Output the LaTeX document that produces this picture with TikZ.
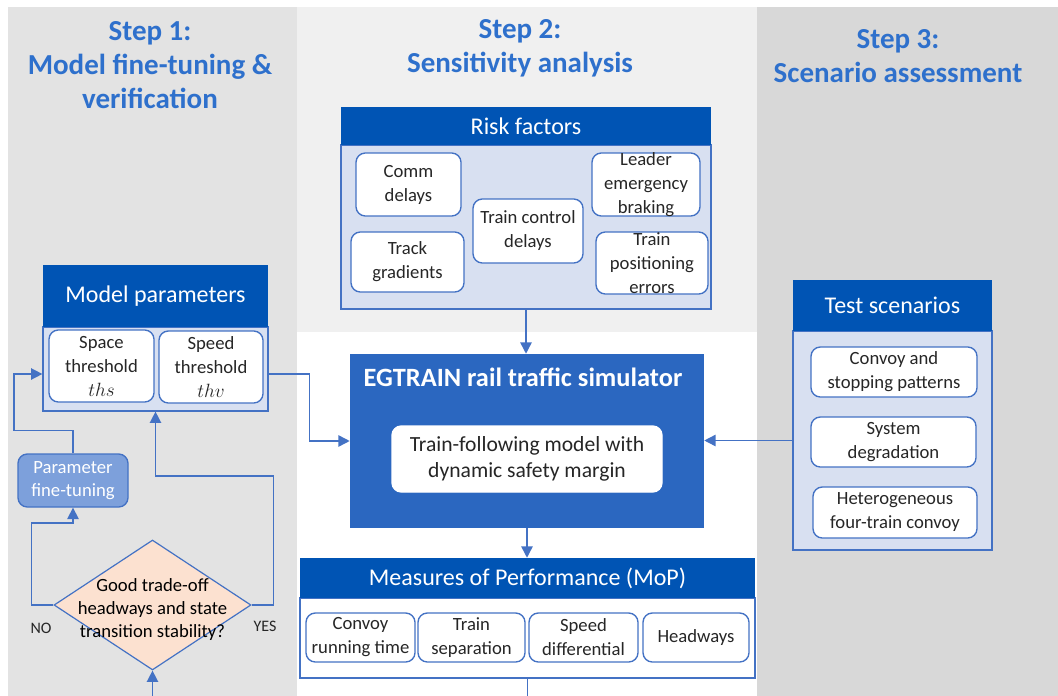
\documentclass[tikz,border=0pt]{standalone}
\usepackage{fontspec}
\setmainfont{Carlito}
\usepackage{amsmath}
\usepackage{tikz}
\usetikzlibrary{shapes,arrows,arrows.meta}

\definecolor{colA}{RGB}{227,227,227}
\definecolor{colB}{RGB}{240,240,240}
\definecolor{colC}{RGB}{216,216,216}
\definecolor{hdblue}{RGB}{0,84,180}
\definecolor{simblue}{RGB}{43,103,192}
\definecolor{pnlblue}{RGB}{216,224,241}
\definecolor{lnblue}{RGB}{68,114,196}
\definecolor{tuneblue}{RGB}{125,160,219}
\definecolor{peach}{RGB}{252,225,208}
\definecolor{ttlblue}{RGB}{46,112,204}
\definecolor{txtgray}{RGB}{38,38,38}

\begin{document}
\begin{tikzpicture}[x=0.75pt,y=0.75pt,yscale=-1,xscale=1,
  head/.style={fill=hdblue,text=white,inner sep=0pt,font=\fontsize{18}{21}\selectfont},
  panel/.style={draw=lnblue,line width=0.9pt,inner sep=0pt},
  item/.style={draw=lnblue,line width=1pt,fill=white,rounded corners=7pt,align=center,inner sep=0pt,inner ysep=-10pt,text=txtgray,font=\fontsize{14}{18}\selectfont},
  flow/.style={draw=lnblue,line width=1.1pt,-{Triangle[length=8.5pt,width=8.5pt]}},
  steptitle/.style={align=center,text=ttlblue,font=\bfseries\fontsize{21.75}{25.5}\selectfont},
  answer/.style={text=txtgray,inner sep=0pt,font=\fontsize{12}{14}\selectfont}]
    \useasboundingbox (0,0) rectangle (1058,696);

    %Shape: Rectangle (columns)
    \fill [colA] (8,7) rectangle (297,696);
    \fill [colB] (297,7) rectangle (757,332);
    \fill [colC] (757,7) rectangle (1058,696);

    % Text Node
    \draw (150,65) node (stepA) [steptitle] {Step 1:\\Model fine-tuning \&\\verification};
    % Text Node
    \draw (520,48) node (stepB) [steptitle] {Step 2:\\Sensitivity analysis};
    % Text Node
    \draw (898,56) node (stepC) [steptitle] {Step 3:\\Scenario assessment};

    %Shape: Rectangle (risk factors)
    \draw (526,227) node (riskbody) [panel,fill=pnlblue,minimum width=277.5pt,minimum height=123pt] {};
    \draw (526,126) node (riskhead) [head,minimum width=277.5pt,minimum height=28.5pt] {Risk factors};
    \draw (408.5,184.5) node (comm) [item,minimum width=78.75pt,minimum height=47.25pt] {Comm\\delays};
    \draw (407.5,262) node (track) [item,minimum width=84.75pt,minimum height=45pt] {Track\\gradients};
    \draw (528,231) node (ctrl) [item,minimum width=82.5pt,minimum height=48pt] {Train control\\delays};
    \draw (646,184.5) node (leader) [item,minimum width=81pt,minimum height=47.25pt] {Leader\\emergency\\braking};
    \draw (652,263) node (posit) [item,minimum width=84pt,minimum height=46.5pt] {Train\\positioning\\errors};

    %Shape: Rectangle (simulator)
    \draw (527,441) node (sim) [fill=simblue,inner sep=0pt,minimum width=265.5pt,minimum height=130.5pt] {};
    \draw (523,377) node (simlbl) [text=white,inner sep=0pt,font=\bfseries\fontsize{19.8}{23}\selectfont] {EGTRAIN rail traffic simulator};
    \draw (527,459) node (tfm) [item,draw=white,minimum width=202.5pt,minimum height=49.5pt,font=\fontsize{16.2}{20}\selectfont] {Train-following model with\\dynamic safety margin};

    %Shape: Rectangle (measures of performance)
    \draw (527.5,638) node (mopbody) [panel,fill=white,minimum width=341.25pt,minimum height=60pt] {};
    \draw (527.5,578) node (mophead) [head,minimum width=341.25pt,minimum height=30pt] {Measures of Performance (MoP)};
    \draw (360.5,637.5) node (crt) [item,minimum width=81.75pt,minimum height=36.75pt] {Convoy\\running time};
    \draw (471.5,637.5) node (sep) [item,minimum width=80.25pt,minimum height=36.75pt] {Train\\separation};
    \draw (583.5,637.5) node (spd) [item,minimum width=81.75pt,minimum height=36.75pt] {Speed\\differential};
    \draw (696,637.5) node (hdw) [item,minimum width=79.5pt,minimum height=36.75pt] {Headways};

    %Shape: Rectangle (test scenarios)
    \draw (892.5,440.5) node (testbody) [panel,fill=pnlblue,minimum width=149.25pt,minimum height=164.25pt] {};
    \draw (892.5,305.5) node (testhead) [head,minimum width=149.25pt,minimum height=38.25pt] {Test scenarios};
    \draw (894,372) node (conv) [item,minimum width=124.5pt,minimum height=37.5pt] {Convoy and\\stopping patterns};
    \draw (893.5,442) node (degr) [item,minimum width=123.75pt,minimum height=37.5pt] {System\\degradation};
    \draw (895,512.5) node (hetero) [item,minimum width=123pt,minimum height=38.25pt] {Heterogeneous\\four-train convoy};

    %Shape: Rectangle (model parameters)
    \draw (155.5,369) node (parbody) [panel,fill=pnlblue,minimum width=168.75pt,minimum height=63pt] {};
    \draw (155.5,296) node (parhead) [head,minimum width=168.75pt,minimum height=46.5pt] {Model parameters};
    \draw (101.5,366) node (ths) [item,minimum width=78.75pt,minimum height=54pt] {Space\\threshold\\$ths$};
    \draw (211,367) node (thv) [item,minimum width=78pt,minimum height=54pt] {Speed\\threshold\\$thv$};

    %Shape: Rounded Rectangle
    \draw (73,480.5) node (tune) [item,fill=tuneblue,text=white,minimum width=82.5pt,minimum height=39.75pt,font=\fontsize{14}{17.25}\selectfont] {Parameter\\fine-tuning};
    %Shape: Diamond
    \draw (152.5,605) node (check) [diamond,draw=lnblue,line width=0.9pt,fill=peach,inner sep=0pt,minimum width=147.75pt,minimum height=97.5pt] {};
    \draw ([yshift=3.75pt]check.center) node (checklbl) [align=center,text=black,inner sep=0pt,font=\fontsize{14}{17.25}\selectfont] {Good trade-off\\headways and state\\transition stability?};
    % Text Node
    \draw (41,628) node (no) [answer] {NO};
    % Text Node
    \draw (265,626) node (yes) [answer] {YES};

    \coordinate (checkin) at (152.5,696);
    \coordinate (mopout) at (527.5,696);

    %Straight Lines
    \draw [flow] (riskbody.south) -- (riskbody.south |- sim.north);
    \draw [flow] (sim.south) -- (sim.south |- mophead.north);
    \draw [draw=lnblue,line width=1.1pt] (mopbody.south) -- (mopout);
    \draw [flow] (testbody.west) -- (testbody.west -| sim.east);
    \draw [flow] ([yshift=3.75pt]parbody.east) -- ++(41,0) |- (sim.west);
    \draw [flow] (tune.north) |- ++(-59,-23) |- ([yshift=3.75pt]parbody.west);
    \draw [flow] (check.west) -| ++(-22,-82) -| (tune.south);
    \draw [flow] (check.east) -| ++(22,-129) -| (parbody.south);
    \draw [flow] (checkin) -- (check.south);

\end{tikzpicture}
\end{document}
